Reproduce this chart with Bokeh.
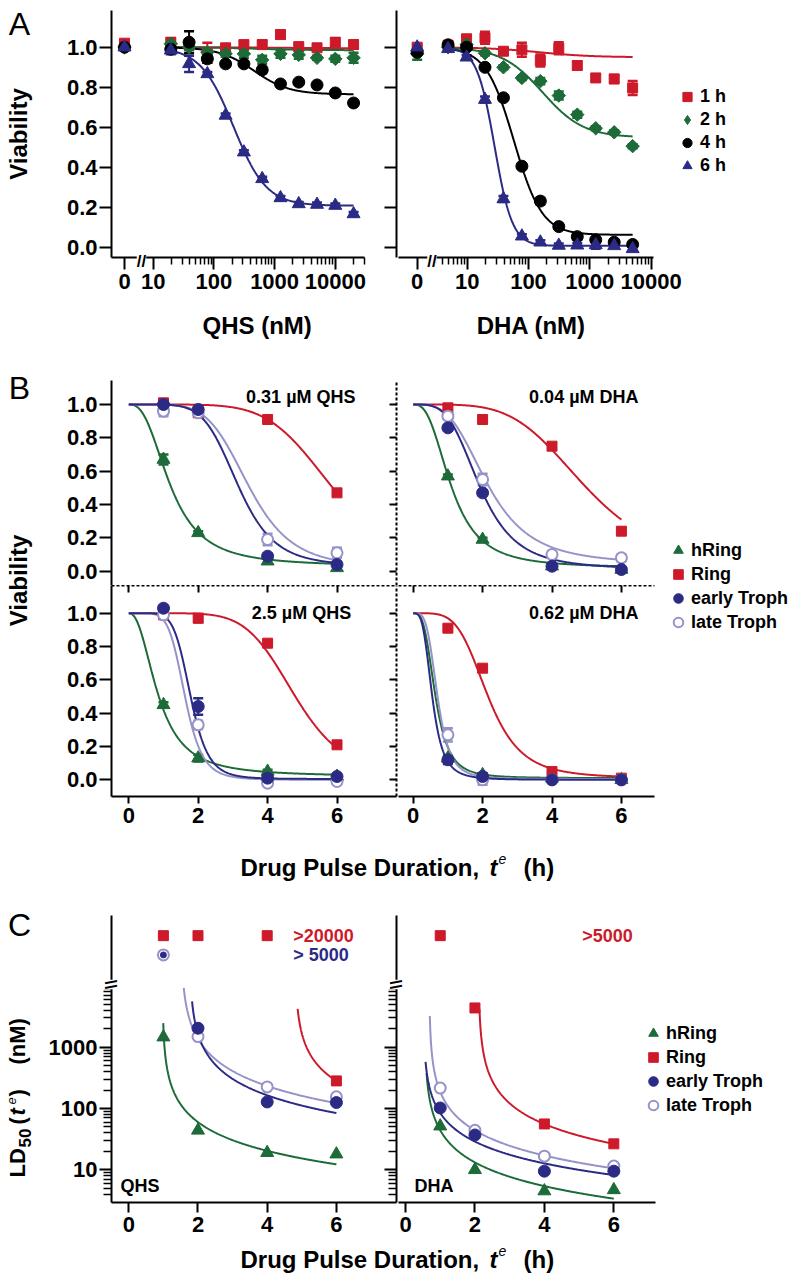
import numpy as np
from bokeh.plotting import figure
from bokeh.models import (Range1d, LinearAxis, FixedTicker, PrintfTickFormatter,
                          CustomJSTickFormatter, ColumnDataSource, Whisker, TeeHead,
                          Label, Legend, LegendItem, Grid, Spacer, GridBox)
from bokeh.layouts import row, column
from bokeh.embed import file_html
from bokeh.resources import INLINE

FONT = "Liberation Sans"
RED = "#cd1a2b"
GREEN = "#1d6b38"
NAVY = "#2b2b86"
LIGHT = "#9593c8"
BLACK = "#000000"

# ---------------------------------------------------------------- data: panel A
hour_labels = ["1 h", "2 h", "4 h", "6 h"]

qhs_conc = [0, 19.5, 39, 78, 156, 312, 625, 1250, 2500, 5000, 10000, 20000]
qhs_via_1h = [1.02, 1.025, 1.01, 0.972, 0.997, 1.013, 1.013, 1.063, 1.003, 0.997, 1.025, 1.013]
qhs_err_1h = [0.015, 0.02, 0.015, 0.05, 0.015, 0.015, 0.02, 0.02, 0.015, 0.015, 0.02, 0.02]
qhs_via_2h = [1.0, 1.017, 1.0, 0.975, 0.967, 0.967, 0.937, 0.967, 0.962, 0.947, 0.942, 0.947]
qhs_err_2h = [0.01, 0.02, 0.015, 0.02, 0.015, 0.02, 0.02, 0.02, 0.02, 0.01, 0.015, 0.025]
qhs_via_4h = [1.0, 0.99, 1.025, 0.942, 0.917, 0.917, 0.887, 0.817, 0.826, 0.812, 0.772, 0.722]
qhs_err_4h = [0.01, 0.01, 0.055, 0.02, 0.01, 0.01, 0.015, 0.01, 0.01, 0.01, 0.01, 0.01]
qhs_via_6h = [1.0, 0.985, 0.917, 0.867, 0.66, 0.477, 0.344, 0.249, 0.219, 0.216, 0.211, 0.169]
qhs_err_6h = [0.01, 0.02, 0.04, 0.01, 0.01, 0.01, 0.01, 0.01, 0.01, 0.01, 0.01, 0.01]
# fitted curve parameters (bottom, EC50 nM, Hill slope) per pulse length
qhs_fit_bottom = [0.995, 0.985, 0.765, 0.21]
qhs_fit_c50 = [1000, 500, 460, 210]
qhs_fit_hill = [1.0, 1.0, 1.5, 1.6]

dha_conc = [0, 4.88, 9.77, 19.5, 39, 78, 156, 312, 625, 1250, 2500, 5000]
dha_via_1h = [1.0, 1.01, 1.042, 1.047, 0.98, 0.987, 0.934, 0.995, 0.909, 0.847, 0.842, 0.797]
dha_err_1h = [0.01, 0.015, 0.015, 0.03, 0.015, 0.035, 0.03, 0.03, 0.02, 0.015, 0.02, 0.035]
dha_via_2h = [0.967, 1.0, 1.013, 0.97, 0.9, 0.847, 0.831, 0.759, 0.664, 0.596, 0.576, 0.507]
dha_err_2h = [0.03, 0.01, 0.01, 0.01, 0.01, 0.01, 0.015, 0.02, 0.015, 0.01, 0.01, 0.01]
dha_via_4h = [0.975, 1.012, 1.0, 0.9, 0.748, 0.407, 0.233, 0.106, 0.056, 0.04, 0.028, 0.017]
dha_err_4h = [0.01, 0.01, 0.01, 0.01, 0.01, 0.01, 0.015, 0.01, 0.015, 0.01, 0.01, 0.01]
dha_via_6h = [1.0, 0.992, 0.95, 0.739, 0.244, 0.058, 0.028, 0.012, 0.013, 0.015, 0.01, -0.005]
dha_err_6h = [0.01, 0.01, 0.01, 0.015, 0.015, 0.01, 0.01, 0.01, 0.01, 0.02, 0.01, 0.01]
dha_fit_bottom = [0.95, 0.55, 0.065, 0.01]
dha_fit_c50 = [150, 170, 58, 28]
dha_fit_hill = [1.0, 1.3, 1.9, 3.0]

# ---------------------------------------------------------------- data: panel B
stages = ["hRing", "Ring", "early Troph", "late Troph"]
pulse_h = [1, 2, 4, 6]

b1_title = "0.31 µM QHS"
b1_via = [[0.67, 0.23, 0.06, 0.02], [1.01, 0.95, 0.91, 0.47], [1.0, 0.97, 0.09, 0.04], [0.96, 0.95, 0.19, 0.11]]
b1_err = [[0.03, 0.01, 0.015, 0.01], [0.02, 0.02, 0.015, 0.015], [0.01, 0.01, 0.015, 0.015], [0.03, 0.02, 0.035, 0.03]]
b1_bottom = [0.03, 0.0, 0.03, 0.02]
b1_t50 = [1.2, 5.88, 3.15, 3.46]
b1_hill = [2.6, 6.0, 6.0, 5.5]

b2_title = "0.04 µM DHA"
b2_via = [[0.57, 0.19, 0.03, 0.01], [0.98, 0.91, 0.75, 0.24], [0.86, 0.47, 0.03, 0.01], [0.93, 0.55, 0.10, 0.08]]
b2_err = [[0.01, 0.01, 0.01, 0.01], [0.015, 0.01, 0.015, 0.015], [0.015, 0.015, 0.015, 0.01], [0.02, 0.035, 0.02, 0.02]]
b2_bottom = [0.02, 0.0, 0.01, 0.04]
b2_t50 = [1.1, 5.0, 1.93, 2.15]
b2_hill = [2.7, 4.4, 3.7, 3.4]

b3_title = "2.5 µM QHS"
b3_via = [[0.45, 0.13, 0.05, 0.02], [0.99, 0.97, 0.82, 0.21], [1.03, 0.44, 0.01, 0.02], [0.99, 0.33, -0.02, -0.01]]
b3_err = [[0.015, 0.02, 0.01, 0.01], [0.015, 0.025, 0.015, 0.015], [0.015, 0.05, 0.01, 0.01], [0.015, 0.025, 0.01, 0.01]]
b3_bottom = [0.02, 0.0, 0.005, 0.0]
b3_t50 = [0.85, 4.8, 1.78, 1.62]
b3_hill = [2.3, 6.5, 7.0, 6.5]

b4_title = "0.62 µM DHA"
b4_via = [[0.13, 0.03, 0.01, 0.0], [0.91, 0.67, 0.05, 0.01], [0.12, 0.02, 0.0, 0.0], [0.27, 0.0, 0.0, 0.0]]
b4_err = [[0.01, 0.01, 0.01, 0.01], [0.015, 0.015, 0.015, 0.015], [0.025, 0.02, 0.01, 0.01], [0.04, 0.03, 0.01, 0.01]]
b4_bottom = [0.01, 0.01, 0.0, 0.005]
b4_t50 = [0.64, 2.15, 0.55, 0.7]
b4_hill = [3.3, 4.5, 3.5, 4.0]

# ---------------------------------------------------------------- data: panel C (LD50, nM; None = off scale)
qhs_ld50 = [[1460, 44, 19, 18], [None, None, None, 282], [None, 2040, 128, 125], [None, 1490, 225, 155]]
qhs_ld50_fit_a = [61.8, 338, 385, 639]
qhs_ld50_fit_t0 = [0.97, 4.8, 1.75, 1.5]
qhs_ld50_fit_n = [1.0, 1.0, 1.05, 1.1]
qhs_ld50_fit_start = [0.995, 4.88, 1.828, 1.588]
qhs_offscale_text = [">20000", "> 5000"]

dha_ld50 = [[51.5, 10, 4.5, 4.7], [None, 4370, 56, 26.5], [102, 37, 9.5, 9.5], [215, 44, 16.7, 11.5]]
dha_ld50_fit_a = [19.4, 109, 42.5, 58.5]
dha_ld50_fit_t0 = [0.55, 2.1, 0.51, 0.68]
dha_ld50_fit_n = [1.03, 1.04, 0.965, 1.025]
dha_ld50_fit_start = [0.606, 2.13, 0.577, 0.70]
dha_offscale_text = [">5000"]

# ---------------------------------------------------------------- styling tables
HOUR_COLORS = [RED, GREEN, BLACK, NAVY]
HOUR_MARKERS = ["square", "square", "circle", "triangle"]
HOUR_ANGLES = [0, np.pi / 4, 0, 0]
HOUR_SIZES = [10, 9.5, 12, 13]

ST_COLORS = [GREEN, RED, NAVY, LIGHT]
ST_FILLS = [GREEN, RED, NAVY, "white"]
ST_MARKERS = ["triangle", "square", "circle", "circle"]
ST_SIZES = [13, 10, 12, 11]
DRAW_ORDER = [0, 1, 3, 2]

ZERO_QHS = 3.367   # where the "0" concentration sits on the log axis
ZERO_DHA = 1.528
OFF_HI = 66000      # display rows for off-scale LD50 values
OFF_LO = 32000
PAGE_W, PAGE_H = 796, 1277
TICK_FS = "22px"


def base_fig(w, h, xr, yr, xt="linear", yt="linear", top=0, right=0, bottom=0, left=0):
    p = figure(width=w, height=h, x_range=xr, y_range=yr, x_axis_type=xt, y_axis_type=yt,
               x_axis_location=None, y_axis_location=None, toolbar_location=None,
               output_backend="svg", min_border_top=top, min_border_right=right,
               min_border_bottom=bottom, min_border_left=left)
    p.outline_line_color = None
    p.center = [c for c in p.center if not isinstance(c, Grid)]
    p.background_fill_color = "white"
    p.border_fill_color = "white"
    return p


def make_axis(ticks, minor=None, fmt=None, tick_out=0, tick_in=0, minor_out=0, minor_in=0,
              hidden=False, dash=None, tl_standoff=3, bounds=None):
    ax = LinearAxis()
    ax.ticker = FixedTicker(ticks=ticks, minor_ticks=minor or [])
    ax.axis_line_color = "black"
    ax.axis_line_width = 2
    if dash:
        ax.axis_line_dash = dash
    ax.major_tick_line_color = "black"
    ax.major_tick_line_width = 2
    ax.minor_tick_line_color = "black"
    ax.minor_tick_line_width = 1.5
    ax.major_tick_out = tick_out
    ax.major_tick_in = tick_in
    ax.minor_tick_out = minor_out
    ax.minor_tick_in = minor_in
    if hidden:
        ax.formatter = CustomJSTickFormatter(code="return ''")
        ax.major_label_text_font_size = "0px"
        ax.major_label_standoff = 0
        ax.axis_label_standoff = 0
    else:
        ax.formatter = fmt
        ax.major_label_text_font = FONT
        ax.major_label_text_font_style = "bold"
        ax.major_label_text_font_size = TICK_FS
        ax.major_label_text_color = "black"
        ax.major_label_standoff = tl_standoff
    if bounds:
        ax.bounds = bounds
    return ax


def add_label(p, x, y, text, size="18px", style="bold", color="black", align="left",
              baseline="middle", angle=0, bg=None):
    lab = Label(x=x, y=y, x_units="screen", y_units="screen", text=text, text_font=FONT,
                text_font_size=size, text_font_style=style, text_color=color,
                text_align=align, text_baseline=baseline, angle=angle)
    if bg:
        lab.background_fill_color = bg
    p.add_layout(lab)


def make_legend(items, x, y, row_h):
    lg = Legend(items=items, location=(x, y), orientation="vertical", glyph_width=26,
                glyph_height=row_h, label_height=row_h, label_standoff=0, padding=0,
                margin=0, spacing=0, border_line_color=None, background_fill_alpha=0,
                label_text_font=FONT, label_text_font_style="bold", label_text_font_size="18px",
                label_text_color="black")
    return lg


def loglogistic(c, bottom, c50, hill):
    return bottom + (1 - bottom) / (1 + (c / c50) ** hill)


PCT_FMT = PrintfTickFormatter(format="%.1f")
INT_FMT = PrintfTickFormatter(format="%d")
VIAB_TICKS = [0.0, 0.2, 0.4, 0.6, 0.8, 1.0]


def decades(lo, hi):
    out = []
    for d in range(lo, hi):
        out += [k * 10 ** d for k in range(2, 10)]
    return out


def whisker(p, src, col):
    p.add_layout(Whisker(source=src, base="x", upper="hi", lower="lo", dimension="height",
                         line_color=col, line_width=2,
                         upper_head=TeeHead(size=10, line_color=col, line_width=2.5),
                         lower_head=TeeHead(size=10, line_color=col, line_width=2.5)))


# ================================================================ panel A
def draw_a(p, conc, zero_pos, series, errs, bottoms, c50s, hills, c_lo, c_hi):
    xs = [zero_pos if c == 0 else c for c in conc]
    cc = np.logspace(np.log10(c_lo), np.log10(c_hi), 300)
    for i in range(4):
        p.line(cc, loglogistic(cc, bottoms[i], c50s[i], hills[i]), line_color=HOUR_COLORS[i],
               line_width=2)
    rends = []
    for i in range(4):
        y = series[i]
        e = errs[i]
        src = ColumnDataSource(dict(x=xs, y=y, lo=[a - b for a, b in zip(y, e)],
                                    hi=[a + b for a, b in zip(y, e)]))
        col = HOUR_COLORS[i]
        whisker(p, src, col)
        leg_r = None
        if HOUR_ANGLES[i]:
            # diamond glyph for the legend key, hidden beneath the rotated squares
            leg_r = p.scatter("x", "y", source=src, marker="diamond", size=6,
                              fill_color=col, line_color=col)
        r = p.scatter("x", "y", source=src, marker=HOUR_MARKERS[i], size=HOUR_SIZES[i],
                      angle=HOUR_ANGLES[i], fill_color=col, line_color=col, line_width=1)
        rends.append(leg_r or r)
    return rends


def zero_fmt(z):
    return CustomJSTickFormatter(args=dict(z=z),
                                 code="return Math.abs(tick - z) < 1e-6 ? '0' : tick.toFixed(0);")


A_Y = Range1d(-0.048, 1.183)
a1 = base_fig(358, 345, Range1d(10 ** 0.313, 10 ** 5.0082), A_Y, xt="log",
              top=10, right=2, bottom=88, left=71)
a1.add_layout(make_axis([ZERO_QHS, 10, 100, 1000, 10000], decades(1, 4) + [20000, 30000],
                        zero_fmt(ZERO_QHS), tick_out=12, minor_out=7, tl_standoff=4,
                        bounds=(10 ** 0.313, 30000)), "below")
a1.add_layout(make_axis(VIAB_TICKS, fmt=PCT_FMT, tick_out=12, tl_standoff=2), "left")
a1.add_layout(make_axis(VIAB_TICKS, tick_in=12, hidden=True), "right")
draw_a(a1, qhs_conc, ZERO_QHS, [qhs_via_1h, qhs_via_2h, qhs_via_4h, qhs_via_6h],
       [qhs_err_1h, qhs_err_2h, qhs_err_4h, qhs_err_6h],
       qhs_fit_bottom, qhs_fit_c50, qhs_fit_hill, 19.5, 20000)

a2 = base_fig(398, 345, Range1d(10 ** -0.1207, 10 ** 6.3719), A_Y, xt="log",
              top=10, right=0, bottom=88, left=0)
a2.add_layout(make_axis([ZERO_DHA, 10, 100, 1000, 10000], decades(0, 4)[1:],
                        zero_fmt(ZERO_DHA), tick_out=12, minor_out=7, tl_standoff=4,
                        bounds=(10 ** -0.1207, 10 ** 4.0392)), "below")
ra = draw_a(a2, dha_conc, ZERO_DHA, [dha_via_1h, dha_via_2h, dha_via_4h, dha_via_6h],
            [dha_err_1h, dha_err_2h, dha_err_4h, dha_err_6h],
            dha_fit_bottom, dha_fit_c50, dha_fit_hill, 4.88, 5000)
a2.add_layout(make_legend([LegendItem(label=hour_labels[i], renderers=[ra[i]]) for i in range(4)],
                          276, 80, 23))


# ================================================================ panel B
def draw_b(p, vals, errs, bottoms, t50s, hills):
    tt = np.linspace(0, 6, 300)
    for i in [1, 0, 3, 2]:
        p.line(tt, loglogistic(tt, bottoms[i], t50s[i], hills[i]), line_color=ST_COLORS[i],
               line_width=2)
    rends = [None] * 4
    for i in DRAW_ORDER:
        y = vals[i]
        e = errs[i]
        col = ST_COLORS[i]
        src = ColumnDataSource(dict(x=pulse_h, y=y, lo=[a - b for a, b in zip(y, e)],
                                    hi=[a + b for a, b in zip(y, e)]))
        whisker(p, src, col)
        rends[i] = p.scatter("x", "y", source=src, marker=ST_MARKERS[i], size=ST_SIZES[i],
                             fill_color=ST_FILLS[i], line_color=col, line_width=2 if i == 3 else 1)
    return rends


BX_L = Range1d(-0.4986, 7.7147)
BX_R = Range1d(-0.4236, 11.046)
BX_R_BOUNDS = (-0.4236, 6.954)
BY_T = Range1d(-0.0858, 1.144)
BY_B = Range1d(-0.1002, 1.1663)
H_TICKS = [0, 2, 4, 6]

b1 = base_fig(358, 240, BX_L, BY_T, top=35, right=2, bottom=0, left=71)
b1.add_layout(make_axis(VIAB_TICKS, fmt=PCT_FMT, tick_out=12, tl_standoff=2), "left")
b1.add_layout(make_axis(VIAB_TICKS, tick_in=7, hidden=True, dash="3 2"), "right")
draw_b(b1, b1_via, b1_err, b1_bottom, b1_t50, b1_hill)
add_label(b1, 244, 189, b1_title, align="right")

b2 = base_fig(398, 240, BX_R, BY_T, top=35)
rb2 = draw_b(b2, b2_via, b2_err, b2_bottom, b2_t50, b2_hill)
add_label(b2, 240, 189, b2_title, align="right")
b2.add_layout(make_legend([LegendItem(label=stages[i], renderers=[rb2[i]]) for i in (0, 1)],
                          267, -1, 24))

b3 = base_fig(358, 251, BX_L, BY_B, top=0, right=2, bottom=40, left=71)
b3.add_layout(make_axis(VIAB_TICKS, fmt=PCT_FMT, tick_out=12, tl_standoff=2), "left")
b3.add_layout(make_axis(VIAB_TICKS, tick_in=7, hidden=True, dash="3 2"), "right")
b3.add_layout(make_axis(H_TICKS, tick_in=7, hidden=True, dash="3 2"), "above")
b3.add_layout(make_axis(H_TICKS, fmt=INT_FMT, tick_out=7, tl_standoff=4), "below")
draw_b(b3, b3_via, b3_err, b3_bottom, b3_t50, b3_hill)
add_label(b3, 239.7, 184, b3_title, align="right")

b4 = base_fig(398, 251, BX_R, BY_B, top=0, bottom=40)
b4.add_layout(make_axis(H_TICKS, tick_in=7, hidden=True, dash="3 2", bounds=BX_R_BOUNDS), "above")
b4.add_layout(make_axis(H_TICKS, fmt=INT_FMT, tick_out=7, tl_standoff=4, bounds=BX_R_BOUNDS), "below")
rb4 = draw_b(b4, b4_via, b4_err, b4_bottom, b4_t50, b4_hill)
add_label(b4, 240, 184, b4_title, align="right")
b4.add_layout(make_legend([LegendItem(label=stages[i], renderers=[rb4[i]]) for i in (2, 3)],
                          267, 162, 24))


# ================================================================ panel C
def draw_c(p, vals, fa, ft0, fn, fstart, off_rows):
    for i in [1, 0, 3, 2]:
        tt = np.linspace(fstart[i], 6, 300)
        p.line(tt, fa[i] / (tt - ft0[i]) ** fn[i], line_color=ST_COLORS[i], line_width=2)
    rends = [None] * 4
    for i in DRAW_ORDER:
        y = [off_rows[i] if v is None else v for v in vals[i]]
        sizes = [6 if (v is None and i == 2) else ST_SIZES[i] for v in vals[i]]
        src = ColumnDataSource(dict(x=pulse_h, y=y, s=sizes))
        rends[i] = p.scatter("x", "y", source=src, marker=ST_MARKERS[i], size="s",
                             fill_color=ST_FILLS[i], line_color=ST_COLORS[i],
                             line_width=2 if i == 3 else 1)
    return rends


CY = Range1d(10 ** 0.4666, 10 ** 5.1485)
LD_MAJOR = [10, 100, 1000]
LD_MINOR = [4, 5, 6, 7, 8, 9] + decades(1, 4)
OFF_ROWS = [None, OFF_HI, OFF_LO, OFF_LO]

c1 = base_fig(358, 409, Range1d(-0.5, 7.737), CY, yt="log", top=79, right=2, bottom=43, left=71)
c1.add_layout(make_axis(LD_MAJOR, LD_MINOR, INT_FMT, tick_out=12, minor_out=8, tl_standoff=2), "left")
c1.add_layout(make_axis(LD_MAJOR, LD_MINOR, tick_in=12, minor_in=8, hidden=True), "right")
c1.add_layout(make_axis(H_TICKS, fmt=INT_FMT, tick_out=10, tl_standoff=4), "below")
draw_c(c1, qhs_ld50, qhs_ld50_fit_a, qhs_ld50_fit_t0, qhs_ld50_fit_n, qhs_ld50_fit_start, OFF_ROWS)
add_label(c1, 9, 17, "QHS", size="18px")
add_label(c1, 181.7, 267, qhs_offscale_text[0], size="18px", color=RED)
add_label(c1, 181.7, 247.7, qhs_offscale_text[1], size="18px", color=NAVY)

c2 = base_fig(398, 409, Range1d(-0.2016, 11.261), CY, yt="log", top=79, right=0, bottom=43, left=0)
c2.add_layout(make_axis(H_TICKS, fmt=INT_FMT, tick_out=10, tl_standoff=4,
                        bounds=(-0.2016, 7.2005)), "below")
rc = draw_c(c2, dha_ld50, dha_ld50_fit_a, dha_ld50_fit_t0, dha_ld50_fit_n, dha_ld50_fit_start, OFF_ROWS)
add_label(c2, 16, 17, "DHA", size="18px")
add_label(c2, 183.7, 267, dha_offscale_text[0], size="18px", color=RED)
c2.add_layout(make_legend([LegendItem(label=stages[i], renderers=[rc[i]]) for i in range(4)],
                          242, 85, 24))

# ================================================================ overlay with free texts
ov = figure(width=PAGE_W, height=PAGE_H, x_range=Range1d(0, 1), y_range=Range1d(0, 1),
            x_axis_location=None, y_axis_location=None, toolbar_location=None,
            output_backend="svg", min_border=0)
ov.outline_line_color = None
ov.center = [c for c in ov.center if not isinstance(c, Grid)]
ov.background_fill_color = None
ov.border_fill_color = None


def ov_label(px, py, text, **kw):
    add_label(ov, px, PAGE_H - py, text, **kw)


RA = np.pi / 2
ov_label(19, 23, "A", size="32px", style="normal", align="center")
ov_label(19, 387, "B", size="32px", style="normal", align="center")
ov_label(19, 924, "C", size="32px", style="normal", align="center")
ov_label(18, 133.5, "Viability", size="24px", align="center", angle=RA)
ov_label(18, 580, "Viability", size="24px", align="center", angle=RA)
ov_label(256.7, 325, "QHS (nM)", size="24px", align="center")
ov_label(530.8, 325, "DHA (nM)", size="24px", align="center")
for base in (867, 1259):
    ov_label(240, base, "Drug Pulse Duration,", size="24px", baseline="alphabetic")
    ov_label(489, base, "t", size="24px", style="bold italic", baseline="alphabetic")
    ov_label(498, base - 9, "e", size="14px", style="italic", baseline="alphabetic")
    ov_label(523, base, "(h)", size="24px", baseline="alphabetic")
ov_label(17, 1177, "LD", size="22px", angle=RA)
ov_label(24, 1147, "50", size="17px", angle=RA)
ov_label(17, 1124, "(", size="22px", angle=RA)
ov_label(17, 1115, "t", size="22px", style="bold italic", angle=RA)
ov_label(11, 1104, "e", size="13px", style="italic", angle=RA)
ov_label(17, 1096, ")", size="22px", angle=RA)
ov_label(17, 1064, "(nM)", size="22px", angle=RA)
# axis breaks
ov_label(141, 261, "//", size="17px", align="center", bg="white")
ov_label(431.5, 261, "//", size="17px", align="center", bg="white")
ov_label(111, 984, "\\\\", size="17px", align="center", angle=RA, bg="white")
ov_label(396, 984, "\\\\", size="17px", align="center", angle=RA, bg="white")

main = column(
    row(Spacer(width=40, height=345), a1, a2),
    row(Spacer(width=40, height=491), column(row(b1, b2), row(b3, b4))),
    row(Spacer(width=40, height=409), c1, c2),
)

page = GridBox(children=[(main, 0, 0), (ov, 0, 0)])

open("out.html", "w").write(file_html(page, INLINE))
